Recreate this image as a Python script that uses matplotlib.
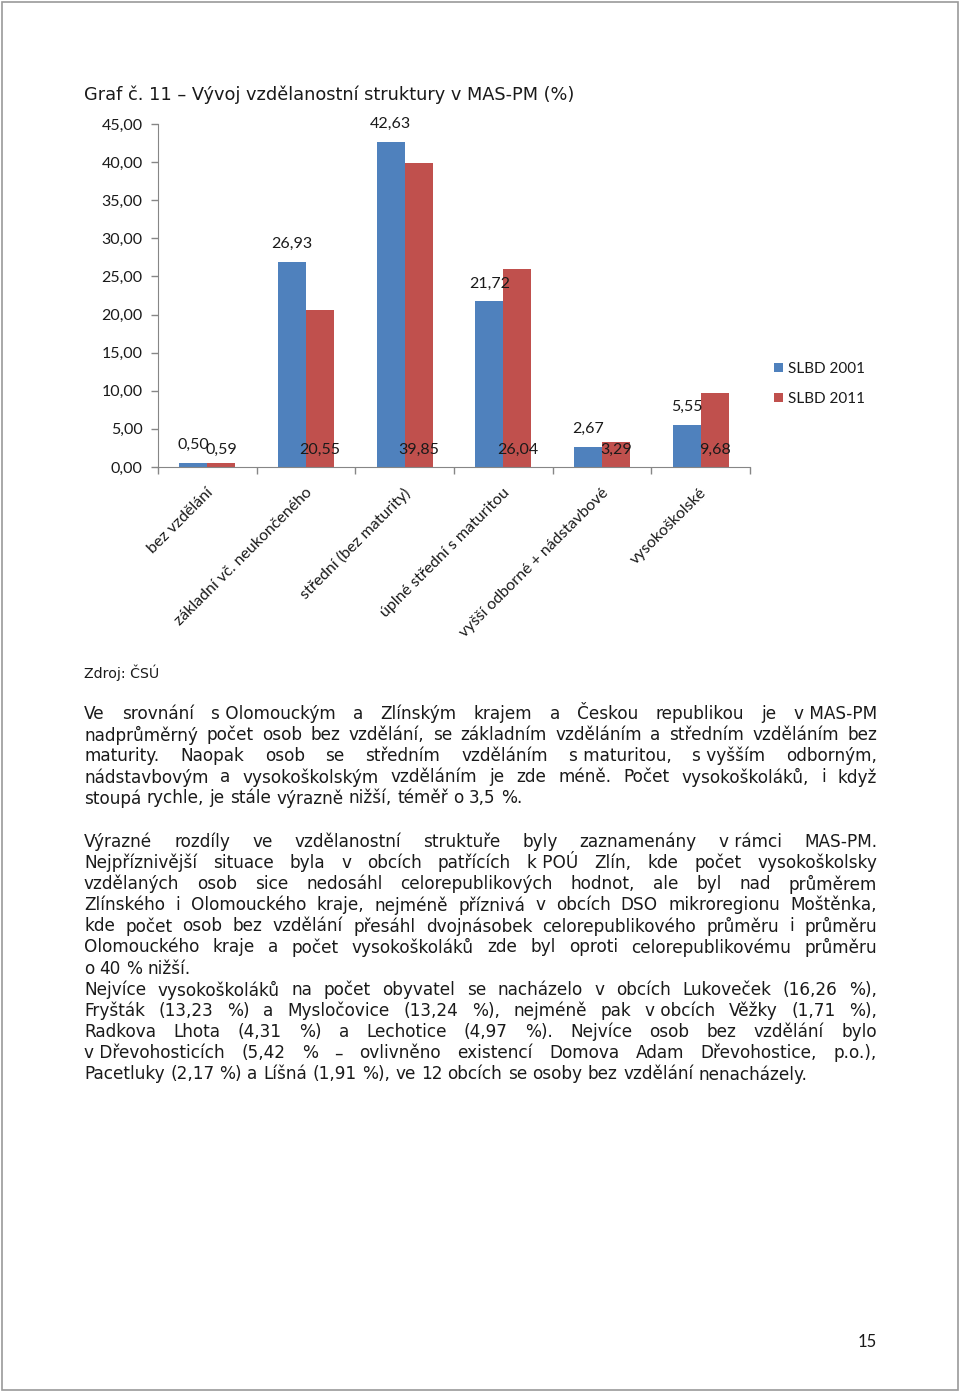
import matplotlib
matplotlib.use("Agg")
import matplotlib.pyplot as plt
from matplotlib.patches import Rectangle
import numpy as np

W, H = 960, 1393

categories = ["bez vzdělání", "základní vč. neukončeného", "střední (bez maturity)",
              "úplné střední s maturitou", "vyšší odborné + nádstavbové", "vysokoškolské"]
slbd_2001 = [0.50, 26.93, 42.63, 21.72, 2.67, 5.55]
slbd_2011 = [0.59, 20.55, 39.85, 26.04, 3.29, 9.68]
series_names = ["SLBD 2001", "SLBD 2011"]
y_ticks = [0, 5, 10, 15, 20, 25, 30, 35, 40, 45]

title = "Graf č. 11 – Vývoj vzdělanostní struktury v MAS-PM (%)"
source = "Zdroj: ČSÚ"
page_no = "15"

# paragraphs as lines, as broken in the original page
para1 = [
    "Ve srovnání s\u00a0Olomouckým a Zlínským krajem a Českou republikou je v\u00a0MAS-PM",
    "nadprůměrný počet osob bez vzdělání, se základním vzděláním a středním vzděláním bez",
    "maturity. Naopak osob se středním vzděláním s\u00a0maturitou, s\u00a0vyšším odborným,",
    "nádstavbovým a vysokoškolským vzděláním je zde méně. Počet vysokoškoláků, i když",
    "stoupá rychle, je stále výrazně nižší, téměř o 3,5 %.",
]
para2 = [
    "Výrazné rozdíly ve vzdělanostní struktuře byly zaznamenány v\u00a0rámci MAS-PM.",
    "Nejpříznivější situace byla v obcích patřících k\u00a0POÚ Zlín, kde počet vysokoškolsky",
    "vzdělaných osob sice nedosáhl celorepublikových hodnot, ale byl nad průměrem",
    "Zlínského i Olomouckého kraje, nejméně příznivá v obcích DSO mikroregionu Moštěnka,",
    "kde počet osob bez vzdělání přesáhl dvojnásobek celorepublikového průměru i průměru",
    "Olomouckého kraje a počet vysokoškoláků zde byl oproti celorepublikovému průměru",
    "o 40 % nižší.",
]
para3 = [
    "Nejvíce vysokoškoláků na počet obyvatel se nacházelo v obcích Lukoveček (16,26 %),",
    "Fryšták (13,23 %) a Mysločovice (13,24 %), nejméně pak v\u00a0obcích Věžky (1,71 %),",
    "Radkova Lhota (4,31 %) a Lechotice (4,97 %). Nejvíce osob bez vzdělání bylo",
    "v\u00a0Dřevohosticích (5,42 % – ovlivněno existencí Domova Adam Dřevohostice, p.o.),",
    "Pacetluky (2,17 %) a Líšná (1,91 %), ve 12 obcích se osoby bez vzdělání nenacházely.",
]

BLUE = "#4F81BD"
RED = "#C0504D"
AXC = "#868686"
TXT = "#1a1a1a"
CHART_FONT = ["Lato", "DejaVu Sans"]
BODY_FONT = "DejaVu Sans"

fig = plt.figure(figsize=(W / 100, H / 100), dpi=100)

def fx(x):
    return x / W

def fy(y):
    return 1 - y / H

# page border
fig.patches.append(Rectangle((fx(2), fy(1390)), fx(956), 1388 / H, transform=fig.transFigure,
                             fill=False, edgecolor="#9a9a9a", linewidth=1.2))

fig.text(fx(84), fy(95), title, fontsize=12.8, family=BODY_FONT, va="center", ha="left", color=TXT)

# chart
ax = fig.add_axes([fx(158), fy(467), fx(750 - 158), (467 - 124) / H])
x = np.arange(len(categories))
bw = 0.285
b1 = ax.bar(x - bw / 2, slbd_2001, bw, color=BLUE, label=series_names[0])
b2 = ax.bar(x + bw / 2, slbd_2011, bw, color=RED, label=series_names[1])
ax.set_xlim(-0.5, len(categories) - 0.5)
ax.set_ylim(0, 45)
ax.set_yticks(y_ticks)
ax.set_yticklabels([f"{v:.2f}".replace(".", ",") for v in y_ticks], family=CHART_FONT, fontsize=11.5, color=TXT)
ax.set_xticks(np.arange(len(categories) + 1) - 0.5)
ax.set_xticklabels([])
ax.tick_params(axis="both", color=AXC, length=5, width=1)
ax.tick_params(axis="y", pad=6)
for s in ["top", "right"]:
    ax.spines[s].set_visible(False)
for s in ["left", "bottom"]:
    ax.spines[s].set_color(AXC)
ax.patch.set_alpha(0)

for i, c in enumerate(categories):
    ax.text(i + 0.04, -3.1, c, rotation=45, ha="right", va="center", rotation_mode="anchor",
            family=CHART_FONT, fontsize=11.5, color=TXT)

for i, v in enumerate(slbd_2001):
    ax.annotate(f"{v:.2f}".replace(".", ","), (i - bw / 2, v), xytext=(0, 18), textcoords="offset pixels",
                ha="center", va="center", family=CHART_FONT, fontsize=11.5, color=TXT)
for i, v in enumerate(slbd_2011):
    ax.annotate(f"{v:.2f}".replace(".", ","), (i + bw / 2, 0), xytext=(0, 17), textcoords="offset pixels",
                ha="center", va="center", family=CHART_FONT, fontsize=11.5, color=TXT)

leg = fig.legend(handles=[b1, b2], loc="center left", bbox_to_anchor=(fx(766), fy(384)),
                 frameon=False, prop={"family": CHART_FONT, "size": 11}, handlelength=0.6,
                 handleheight=0.6, handletextpad=0.35, labelspacing=1.05, borderpad=0)
for t in leg.get_texts():
    t.set_color(TXT)

fig.text(fx(84), fy(673), source, fontsize=10.2, family=BODY_FONT, va="center", ha="left", color=TXT)

# justified body text
renderer = fig.canvas.get_renderer()
BODY_SIZE = 12.2
LEFT, RIGHT = 84, 877

def text_width(s):
    t = fig.text(0, 0, s, fontsize=BODY_SIZE, family=BODY_FONT)
    w = t.get_window_extent(renderer).width
    t.remove()
    return w

space_w = text_width("a a") - text_width("aa")

def draw_para(lines, y0, step=21.1):
    for k, line in enumerate(lines):
        y = y0 + k * step
        words = line.split(" ")
        last = k == len(lines) - 1
        widths = [text_width(wd) for wd in words]
        if last or len(words) < 2:
            gap = space_w
        else:
            gap = (RIGHT - LEFT - sum(widths)) / (len(words) - 1)
        xpos = LEFT
        for wd, w in zip(words, widths):
            fig.text(fx(xpos), fy(y), wd, fontsize=BODY_SIZE, family=BODY_FONT,
                     va="center", ha="left", color=TXT)
            xpos += w + gap

draw_para(para1, 714)
draw_para(para2, 842)
draw_para(para3, 990)

fig.text(fx(867), fy(1342), page_no, fontsize=12, family=CHART_FONT, va="center", ha="center", color=TXT)

fig.savefig("out.png", dpi=100)
